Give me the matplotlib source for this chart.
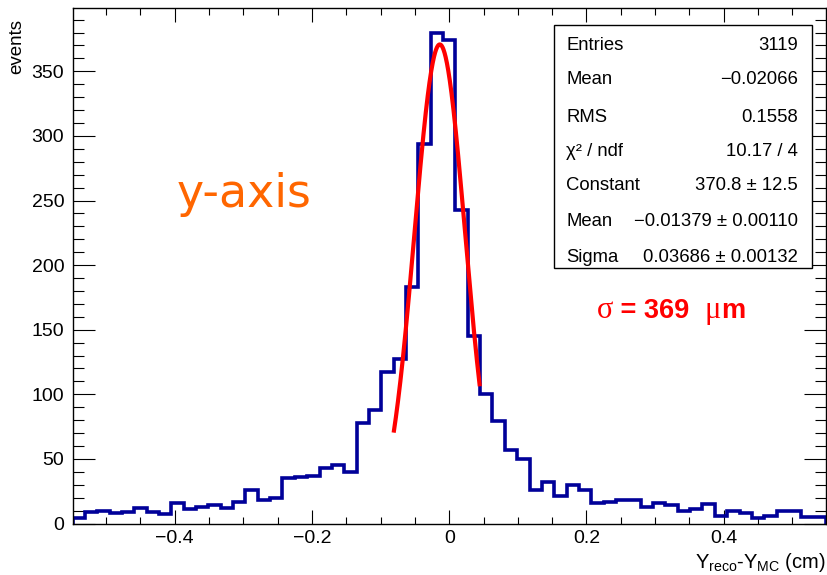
import numpy as np
import matplotlib
matplotlib.use("Agg")
import matplotlib.pyplot as plt
from matplotlib.patches import Rectangle
from matplotlib.ticker import MultipleLocator, FuncFormatter

# ---------------- data ----------------
counts = [4, 9, 10, 8, 9, 12, 9, 7, 16, 11, 13, 14, 12, 17, 26, 18, 20, 35, 36, 37,
          43, 45, 40, 78, 88, 117, 127, 183, 294, 380, 374, 243, 145, 100, 79, 57,
          50, 26, 32, 21, 30, 26, 16, 17, 18, 18, 13, 16, 14, 10, 11, 15, 6, 10, 8,
          4, 6, 10, 10, 5, 5]
x_min, x_max = -0.549, 0.549

fit_constant = 370.8
fit_mean = -0.01379
fit_sigma = 0.03686
fit_range = (-0.081, 0.0445)

stats_labels = ["Entries", "Mean", "RMS", "\u03c7\u00b2 / ndf", "Constant", "Mean", "Sigma"]
stats_values = ["3119", "\u22120.02066", "0.1558", "10.17 / 4", "370.8 \u00b1 12.5",
                "\u22120.01379 \u00b1 0.00110", "0.03686 \u00b1 0.00132"]

x_ticks = [-0.4, -0.2, 0.0, 0.2, 0.4]
y_ticks = [0, 50, 100, 150, 200, 250, 300, 350]

# ---------------- figure ----------------
plt.rcParams["font.family"] = ["Liberation Sans", "DejaVu Sans"]
plt.rcParams["mathtext.fontset"] = "custom"
plt.rcParams["mathtext.rm"] = "Liberation Sans"
plt.rcParams["mathtext.it"] = "Liberation Sans:italic"

W, H = 827, 575
fig = plt.figure(figsize=(W / 100, H / 100), dpi=100)


def fx(p):
    return p / W


def fy(p):
    return 1 - p / H


ax = fig.add_axes([fx(72.5), fy(523.5), fx(826) - fx(72.5), fy(8) - fy(523.5)])

edges = np.linspace(x_min, x_max, len(counts) + 1)
ax.stairs(counts, edges, color="#000099", lw=2.6, baseline=0, zorder=2)

xs = np.linspace(fit_range[0], fit_range[1], 400)
ys = fit_constant * np.exp(-0.5 * ((xs - fit_mean) / fit_sigma) ** 2)
ax.plot(xs, ys, color="#ff0000", lw=3.0, zorder=3, solid_capstyle="butt")

ax.set_xlim(x_min, x_max)
ax.set_ylim(0, 399)

ax.set_xticks(x_ticks)
ax.set_yticks(y_ticks)
ax.xaxis.set_minor_locator(MultipleLocator(0.05))
ax.yaxis.set_minor_locator(MultipleLocator(10))


def xfmt(v, pos):
    if abs(v) < 1e-9:
        return "0"
    return f"{v:.1f}".replace("-", "\u2212")


ax.xaxis.set_major_formatter(FuncFormatter(xfmt))
ax.tick_params(axis="both", which="both", direction="in", top=True, right=True,
               width=0.8, colors="black", labelsize=14)
ax.tick_params(axis="y", which="major", length=15.5, pad=6)
ax.tick_params(axis="y", which="minor", length=7.8)
ax.tick_params(axis="x", which="major", length=10, pad=5)
ax.tick_params(axis="x", which="minor", length=5)
for s in ax.spines.values():
    s.set_linewidth(1.0)

# axis titles
fig.text(fx(826), fy(562), r"Y$_{\rm reco}$-Y$_{\rm MC}$ (cm)", ha="right",
         va="center", fontsize=14.5)
fig.text(fx(17), fy(19), "events", rotation=90, ha="center", va="top", fontsize=13.5)

# stats box
bx0, bx1, by0, by1 = 554, 812, 25, 268
fig.patches.append(Rectangle((fx(bx0), fy(by1)), fx(bx1) - fx(bx0), fy(by0) - fy(by1),
                             transform=fig.transFigure, facecolor="white",
                             edgecolor="black", lw=1.0, zorder=5))
row_y = [45, 80, 117, 152, 186, 222, 257]
for lab, val, ry in zip(stats_labels, stats_values, row_y):
    fig.text(fx(566), fy(ry), lab, ha="left", va="center", fontsize=13.3, zorder=6)
    fig.text(fx(798), fy(ry), val, ha="right", va="center", fontsize=13.3, zorder=6)

# annotations
fig.text(fx(177), fy(207), "y-axis", ha="left", va="baseline", fontsize=33,
         color="#ff6600", family="DejaVu Sans")

# sigma annotation built from pieces (Greek in serif, rest bold sans)
pieces = [("\u03c3", dict(family="Liberation Serif", fontweight="normal", fontsize=22)),
          (" = 369  ", dict(fontweight="bold", fontsize=19.5)),
          ("\u03bc", dict(family="Liberation Serif", fontweight="normal", fontsize=22)),
          ("m", dict(fontweight="bold", fontsize=19.5))]
renderer = fig.canvas.get_renderer()
cur_x = 597.0
for txt, kw in pieces:
    t = fig.text(fx(cur_x), fy(318), txt, ha="left", va="baseline", color="#ff0000", **kw)
    bb = t.get_window_extent(renderer=renderer)
    cur_x += bb.width

fig.savefig("out.png", dpi=100)
